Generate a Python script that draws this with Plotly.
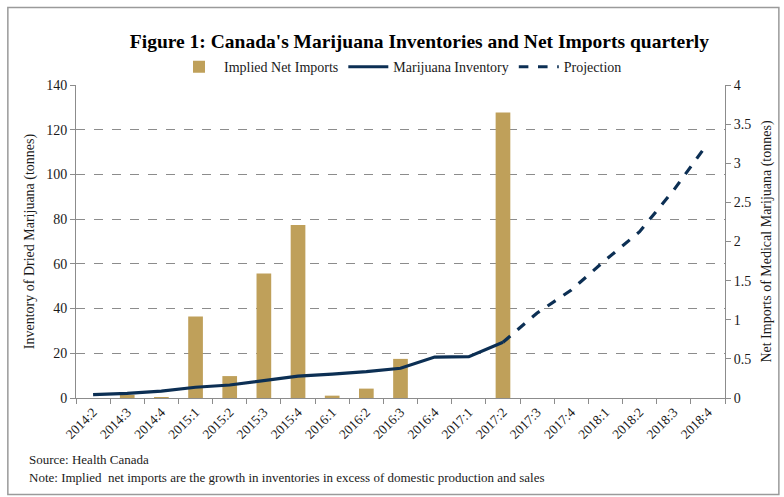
import plotly.graph_objects as go

quarters = ["2014:2", "2014:3", "2014:4", "2015:1", "2015:2", "2015:3", "2015:4",
            "2016:1", "2016:2", "2016:3", "2016:4", "2017:1", "2017:2", "2017:3",
            "2017:4", "2018:1", "2018:2", "2018:3", "2018:4"]
net_imports = [0.0, 0.04, 0.01, 1.04, 0.28, 1.59, 2.21, 0.03, 0.12, 0.50, 0.0, 0.0, 3.65,
               None, None, None, None, None, None]
inventory = [1.5, 2.1, 3.1, 4.8, 5.8, 7.8, 9.8, 10.7, 11.8, 13.3, 18.3, 18.5, 24.9,
             None, None, None, None, None, None]
projection = [None] * 12 + [24.9, 38.0, 48.3, 61.7, 74.4, 93.0, 114.0]

SERIF = "Liberation Serif, Times New Roman, serif"
GOLD = "#BFA05A"
NAVY = "#0C2F54"
GRID = "#8c8c8c"
AXIS = "#8c8c8c"

fig = go.Figure()
fig.add_trace(go.Bar(x=quarters, y=net_imports, name="Implied Net Imports",
                     marker=dict(color=GOLD, line=dict(width=0)), width=0.43,
                     yaxis="y"))
fig.add_trace(go.Scatter(x=quarters, y=inventory, name="Marijuana Inventory",
                         mode="lines", line=dict(color=NAVY, width=3.2),
                         yaxis="y2"))
fig.add_trace(go.Scatter(x=quarters, y=projection, name="Projection",
                         mode="lines", line=dict(color=NAVY, width=3.2, dash="dash"),
                         yaxis="y2"))

fig.update_layout(
    width=784, height=497,
    margin=dict(l=76, r=59, t=85, b=99),
    paper_bgcolor="white", plot_bgcolor="white",
    font=dict(family=SERIF, size=14, color="#1a1a1a"),
    title=dict(text="<b>Figure 1: Canada's Marijuana Inventories and Net Imports quarterly</b>",
               x=0.535, xanchor="center", y=0.918, yanchor="middle",
               font=dict(family=SERIF, size=19.5, color="black")),
    showlegend=True,
    legend=dict(orientation="h", x=0.5, xanchor="center", y=1.057, yanchor="middle",
                font=dict(family=SERIF, size=14), traceorder="normal",
                itemwidth=40, bgcolor="rgba(0,0,0,0)"),
    bargap=0.5,
    xaxis=dict(type="category", tickson="boundaries", ticks="outside", ticklen=5,
               tickcolor=AXIS, showline=True, linecolor=AXIS, linewidth=1,
               tickangle=-45, tickfont=dict(family=SERIF, size=13.5),
               showgrid=False),
    yaxis=dict(side="right", range=[0, 4], dtick=0.5, ticks="outside", ticklen=5,
               tickcolor=AXIS, showline=True, linecolor=AXIS, showgrid=False,
               zeroline=False, tickfont=dict(family=SERIF, size=14),
               title=dict(text="Net Imports of Medical Marijuana (tonnes)",
                          font=dict(family=SERIF, size=14), standoff=10)),
    yaxis2=dict(side="left", overlaying="y", range=[0, 140], dtick=20,
                ticks="outside", ticklen=5, tickcolor=AXIS, showline=True,
                linecolor=AXIS, showgrid=True, gridcolor=GRID, griddash="dash",
                gridwidth=1, zeroline=False, tickfont=dict(family=SERIF, size=14),
                title=dict(text="Inventory of Dried Marijuana (tonnes)",
                           font=dict(family=SERIF, size=14), standoff=8)),
)

fig.add_annotation(text="Source: Health Canada", xref="paper", yref="paper",
                   x=-0.075, y=-0.196, xanchor="left", yanchor="middle",
                   showarrow=False, font=dict(family=SERIF, size=13))
fig.add_annotation(text="Note: Implied  net imports are the growth in inventories in excess of domestic production and sales",
                   xref="paper", yref="paper", x=-0.075, y=-0.253,
                   xanchor="left", yanchor="middle", showarrow=False,
                   font=dict(family=SERIF, size=13))

fig.add_shape(type="rect", xref="paper", yref="paper",
              x0=-0.105, x1=1.083, y0=-0.308, y1=1.248,
              line=dict(color="#9a9a9a", width=1.5), fillcolor="rgba(0,0,0,0)", layer="below")

fig.write_html("out.html")
